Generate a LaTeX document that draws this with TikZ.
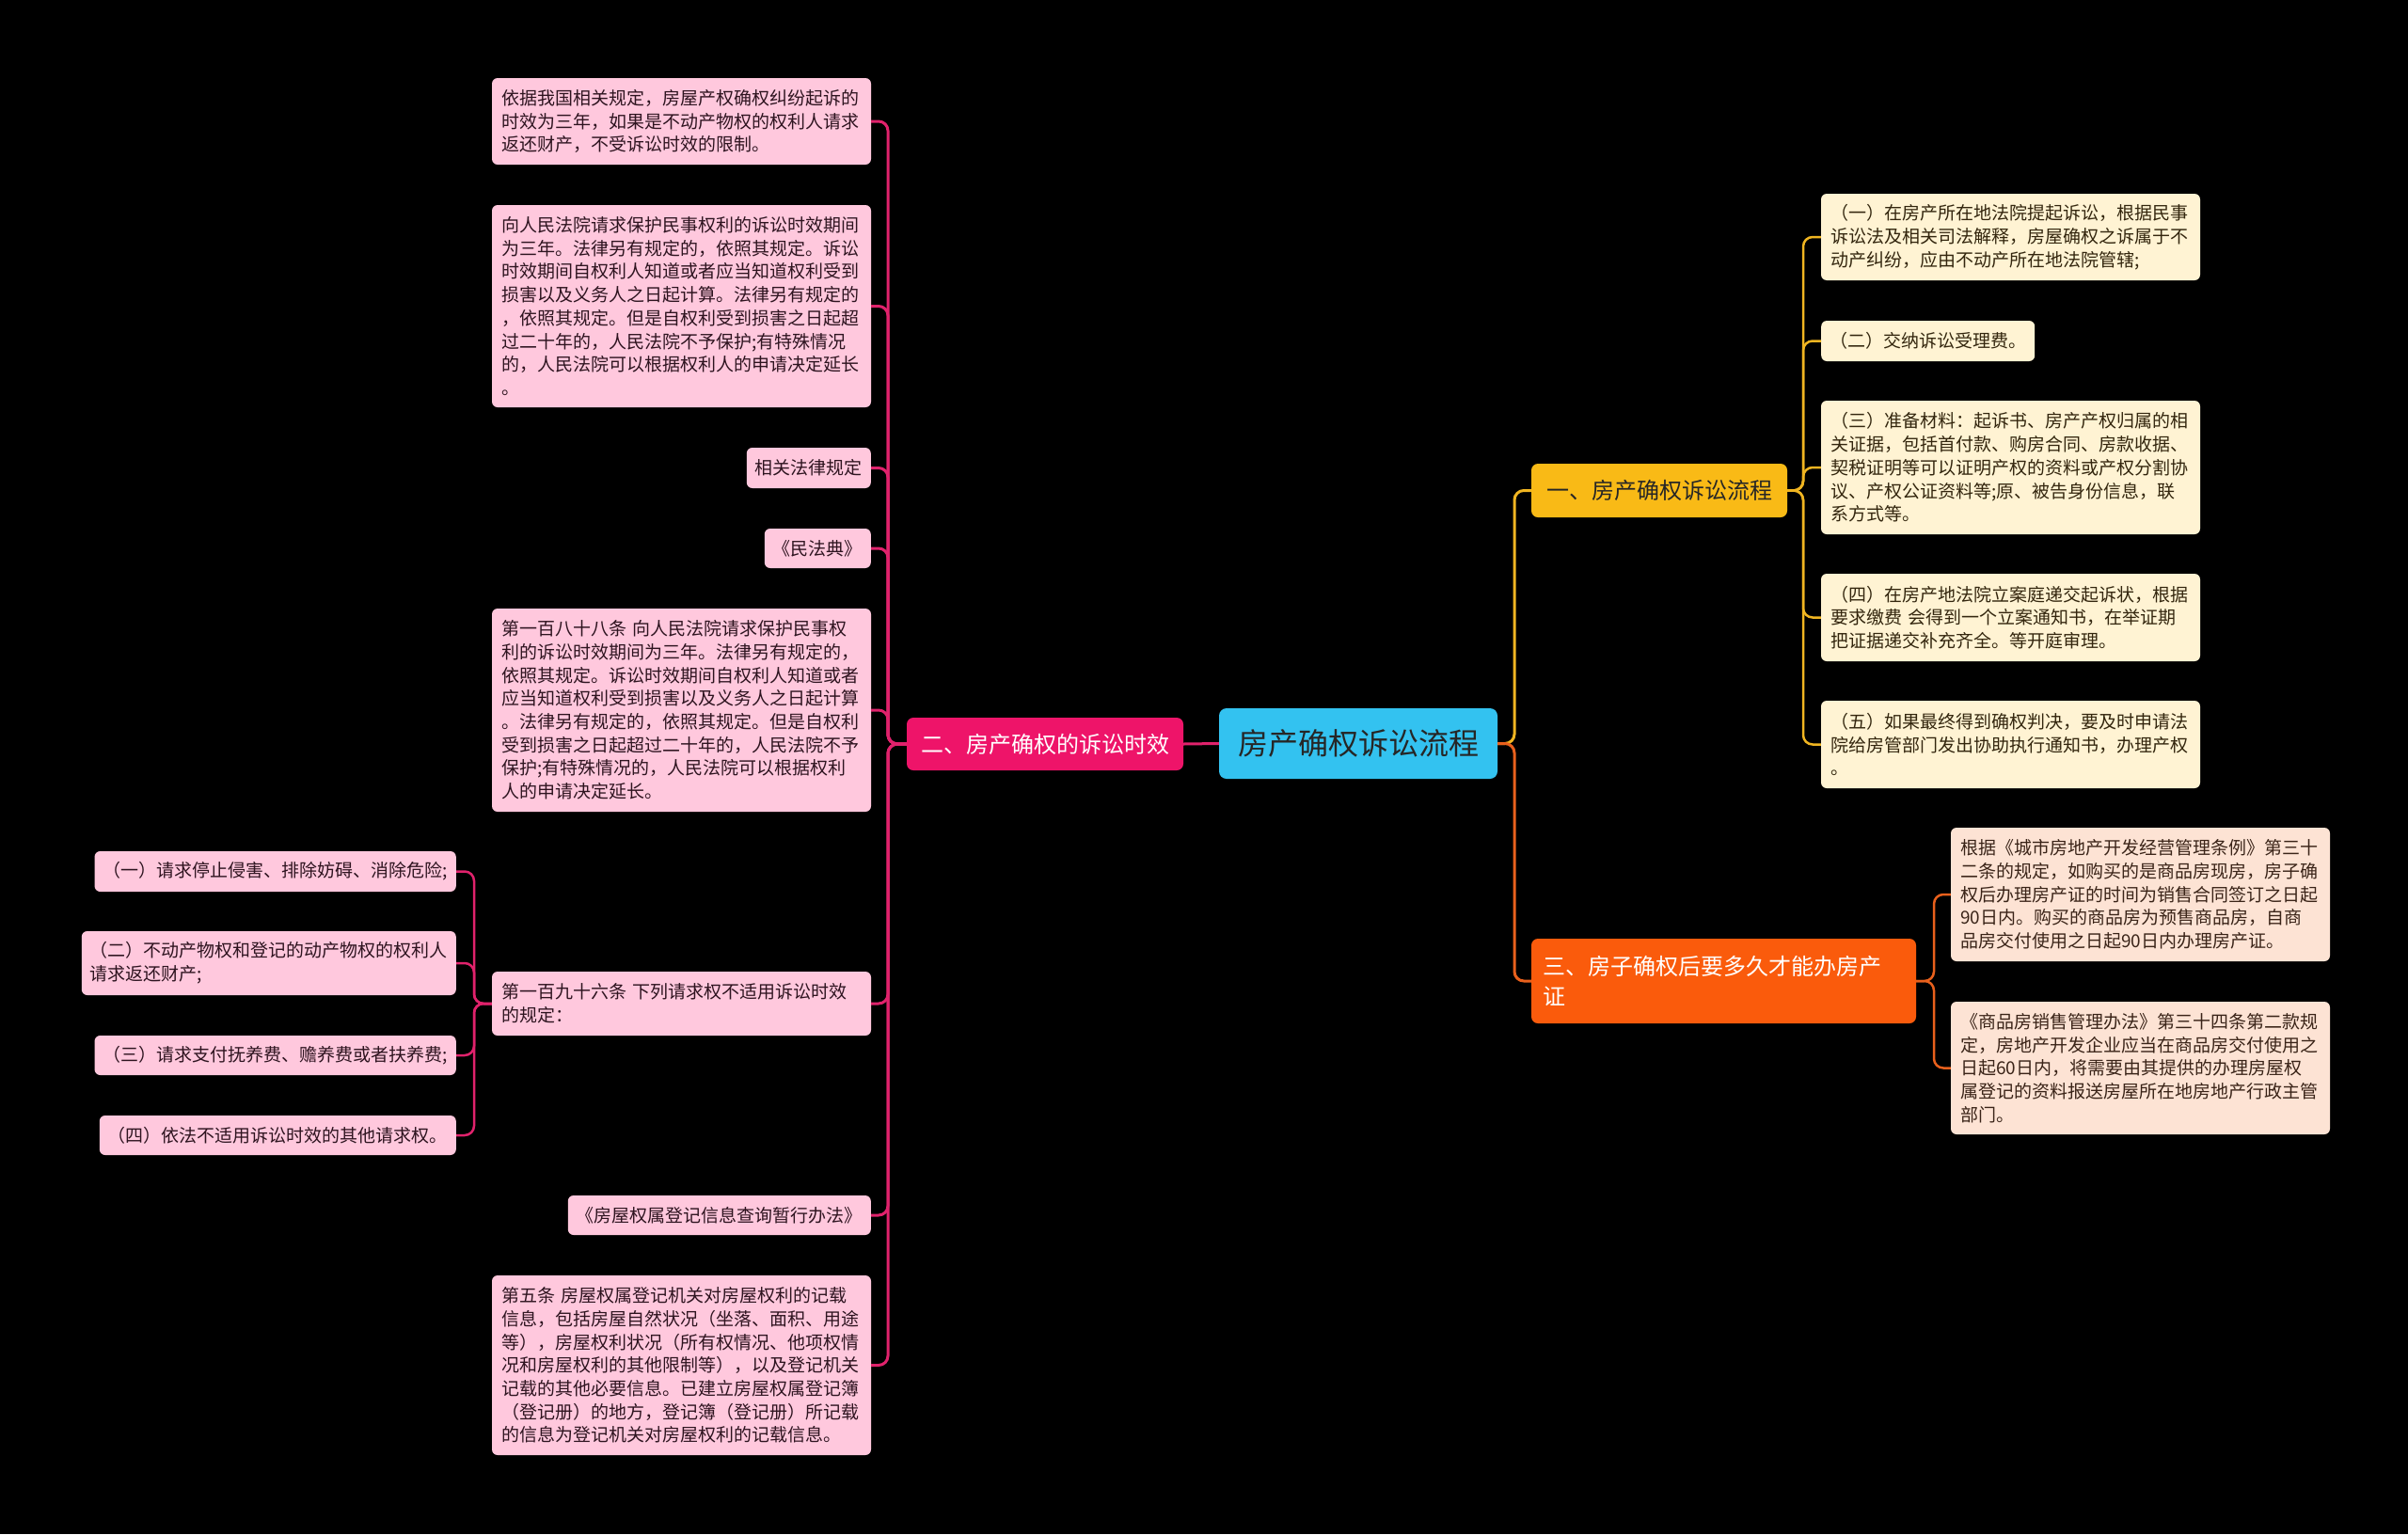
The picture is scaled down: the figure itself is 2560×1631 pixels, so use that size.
\documentclass[tikz,border=0pt]{standalone}
\usepackage{fontspec}
\setmainfont{Noto Sans CJK SC}
\definecolor{rootC}{HTML}{33C2F0}
\definecolor{pinkM}{HTML}{EE1469}
\definecolor{amberM}{HTML}{F9BA16}
\definecolor{orangeM}{HTML}{FA5B0C}
\definecolor{pinkL}{HTML}{FFC8DD}
\definecolor{creamL}{HTML}{FFF3D3}
\definecolor{peachL}{HTML}{FDE3D4}
\definecolor{pinkT}{HTML}{2E1420}
\definecolor{creamT}{HTML}{33260E}
\definecolor{peachT}{HTML}{3A2418}
\definecolor{pinkW}{HTML}{E0226C}
\definecolor{amberW}{HTML}{F0B521}
\definecolor{orangeW}{HTML}{E8601C}
\tikzset{
  leaf/.style={rounded corners=6pt, inner xsep=10pt, inner ysep=0pt, align=left,
    font=\fontsize{19}{24.7}\selectfont},
  pleaf/.style={leaf, fill=pinkL, text=pinkT},
  cleaf/.style={leaf, fill=creamL, text=creamT},
  oleaf/.style={leaf, fill=peachL, text=peachT},
  mainbox/.style={rounded corners=7pt, inner xsep=12pt, inner ysep=0pt, align=left,
    font=\fontsize{24}{32}\selectfont},
  conn/.style={line width=3pt, rounded corners=10pt},
  connP/.style={conn, draw=pinkW},
  connY/.style={conn, draw=amberW},
  connO/.style={conn, draw=orangeW},
}
\begin{document}
\begin{tikzpicture}[x=1pt,y=-1pt]
\fill[black] (0,0) rectangle (2560,1631);
\useasboundingbox (0,0) rectangle (2560,1631);

% main nodes
\node[rounded corners=8pt, fill=rootC, text=black!85, minimum width=296pt, minimum height=75pt,
  inner sep=0pt, font=\fontsize{32}{38}\selectfont] (root) at (1444,790.5) {房产确权诉讼流程};
\node[mainbox, fill=pinkM, text=white, minimum width=294pt, minimum height=56pt, align=center]
  (two) at (1111,791) {二、房产确权的诉讼时效};
\node[mainbox, fill=amberM, text=black!85, minimum width=272pt, minimum height=57pt, align=center]
  (one) at (1764,521.5) {一、房产确权诉讼流程};
\node[mainbox, fill=orangeM, text=white, text width=385pt, minimum height=90pt]
  (three) at (1832.5,1043) {三、房子确权后要多久才能办房产\\证};

% left leaves
\node[pleaf, text width=383pt, minimum height=92pt] (A1) at (724.5,129) {依据我国相关规定，房屋产权确权纠纷起诉的\\时效为三年，如果是不动产物权的权利人请求\\返还财产，不受诉讼时效的限制。};
\node[pleaf, text width=383pt, minimum height=215pt] (A2) at (724.5,325.5) {向人民法院请求保护民事权利的诉讼时效期间\\为三年。法律另有规定的，依照其规定。诉讼\\时效期间自权利人知道或者应当知道权利受到\\损害以及义务人之日起计算。法律另有规定的\\，依照其规定。但是自权利受到损害之日起超\\过二十年的，人民法院不予保护;有特殊情况\\的，人民法院可以根据权利人的申请决定延长\\。};
\node[pleaf, minimum height=43pt, anchor=east, inner xsep=9pt] (A3) at (926,497.5) {相关法律规定};
\node[pleaf, minimum height=42pt, anchor=east, inner xsep=9pt] (A4) at (926,583) {《民法典》};
\node[pleaf, text width=383pt, minimum height=216pt] (A5) at (724.5,755) {第一百八十八条 向人民法院请求保护民事权\\利的诉讼时效期间为三年。法律另有规定的，\\依照其规定。诉讼时效期间自权利人知道或者\\应当知道权利受到损害以及义务人之日起计算\\。法律另有规定的，依照其规定。但是自权利\\受到损害之日起超过二十年的，人民法院不予\\保护;有特殊情况的，人民法院可以根据权利\\人的申请决定延长。};
\node[pleaf, text width=383pt, minimum height=68pt] (A6) at (724.5,1067) {第一百九十六条 下列请求权不适用诉讼时效\\的规定：};
\node[pleaf, minimum height=42pt, anchor=east, inner xsep=9pt] (A7) at (926,1292) {《房屋权属登记信息查询暂行办法》};
\node[pleaf, text width=383pt, minimum height=191pt] (A8) at (724.5,1451.5) {第五条 房屋权属登记机关对房屋权利的记载\\信息，包括房屋自然状况（坐落、面积、用途\\等），房屋权利状况（所有权情况、他项权情\\况和房屋权利的其他限制等），以及登记机关\\记载的其他必要信息。已建立房屋权属登记簿\\（登记册）的地方，登记簿（登记册）所记载\\的信息为登记机关对房屋权利的记载信息。};

% sub leaves of A6
\node[pleaf, minimum height=43pt, anchor=east, inner xsep=9pt] (S1) at (485,926.5) {（一）请求停止侵害、排除妨碍、消除危险;};
\node[pleaf, minimum height=68pt, anchor=east, inner xsep=9pt] (S2) at (485,1024) {（二）不动产物权和登记的动产物权的权利人\\请求返还财产;};
\node[pleaf, minimum height=42pt, anchor=east, inner xsep=9pt] (S3) at (485,1122) {（三）请求支付抚养费、赡养费或者扶养费;};
\node[pleaf, minimum height=42pt, anchor=east, inner xsep=9pt] (S4) at (485,1207) {（四）依法不适用诉讼时效的其他请求权。};

% right leaves of one
\node[cleaf, text width=383pt, minimum height=92pt] (B1) at (2137.5,252) {（一）在房产所在地法院提起诉讼，根据民事\\诉讼法及相关司法解释，房屋确权之诉属于不\\动产纠纷，应由不动产所在地法院管辖;};
\node[cleaf, minimum height=43pt, anchor=west, inner xsep=9pt] (B2) at (1936,362.5) {（二）交纳诉讼受理费。};
\node[cleaf, text width=383pt, minimum height=142pt] (B3) at (2137.5,497) {（三）准备材料：起诉书、房产产权归属的相\\关证据，包括首付款、购房合同、房款收据、\\契税证明等可以证明产权的资料或产权分割协\\议、产权公证资料等;原、被告身份信息，联\\系方式等。};
\node[cleaf, text width=383pt, minimum height=93pt] (B4) at (2137.5,656.5) {（四）在房产地法院立案庭递交起诉状，根据\\要求缴费 会得到一个立案通知书，在举证期\\把证据递交补充齐全。等开庭审理。};
\node[cleaf, text width=383pt, minimum height=93pt] (B5) at (2137.5,791.5) {（五）如果最终得到确权判决，要及时申请法\\院给房管部门发出协助执行通知书，办理产权\\。};

% right leaves of three
\node[oleaf, text width=383pt, minimum height=142pt] (C1) at (2275.5,951) {根据《城市房地产开发经营管理条例》第三十\\二条的规定，如购买的是商品房现房，房子确\\权后办理房产证的时间为销售合同签订之日起\\90日内。购买的商品房为预售商品房，自商\\品房交付使用之日起90日内办理房产证。};
\node[oleaf, text width=383pt, minimum height=141pt] (C2) at (2275.5,1135.5) {《商品房销售管理办法》第三十四条第二款规\\定，房地产开发企业应当在商品房交付使用之\\日起60日内，将需要由其提供的办理房屋权\\属登记的资料报送房屋所在地房地产行政主管\\部门。};

% trunk coordinates
\coordinate (tL) at (944,791);
\coordinate (tS) at (504,1067);
\coordinate (tR) at (1610,790.5);
\coordinate (tB) at (1917,521.5);
\coordinate (tC) at (2056,1043);

% connectors
\draw[connP] (root.west) -- (two.east);
\foreach \c in {A1,A2,A3,A4,A5,A6,A7,A8}{
  \draw[connP] (two.west) -- (two.west -| tL) -- (\c.east -| tL) -- (\c.east);
}
\foreach \c in {S1,S2,S3,S4}{
  \draw[connP, line width=2.5pt] (A6.west) -- (A6.west -| tS) -- (\c.east -| tS) -- (\c.east);
}
\draw[connY] (root.east) -- (root.east -| tR) -- (one.west -| tR) -- (one.west);
\draw[connO] (root.east) -- (root.east -| tR) -- (three.west -| tR) -- (three.west);
\foreach \c in {B1,B2,B3,B4,B5}{
  \draw[connY, line width=2.5pt] (one.east) -- (one.east -| tB) -- (\c.west -| tB) -- (\c.west);
}
\foreach \c in {C1,C2}{
  \draw[connO, line width=2.5pt] (three.east) -- (three.east -| tC) -- (\c.west -| tC) -- (\c.west);
}
\end{tikzpicture}
\end{document}
